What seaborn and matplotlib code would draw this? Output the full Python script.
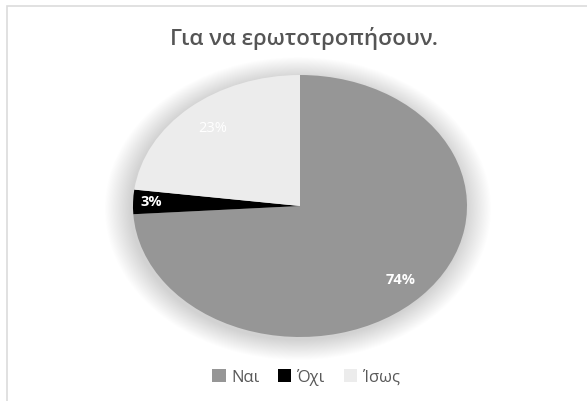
import numpy as np
import matplotlib
matplotlib.use("Agg")
import matplotlib.pyplot as plt
from matplotlib.patches import Ellipse, Rectangle
import seaborn as sns

# Survey answers
categories = ["Ναι", "Όχι", "Ίσως"]
shares = [74, 3, 23]
title = "Για να ερωτοτροπήσουν."

sns.set_theme(style="white")
plt.rcParams["font.family"] = ["Open Sans", "DejaVu Sans"]

colors = ["#969696", "#000000", "#ececec"]

W, H = 587, 401
fig = plt.figure(figsize=(W / 100, H / 100), dpi=100)
fig.patch.set_facecolor("white")

# thin chart-area border (top and left edges visible)
fig.patches.append(Rectangle((7 / W, -0.1), 1.2, (H - 6) / H + 0.1,
                             transform=fig.transFigure, fill=False,
                             edgecolor="#dcdcdc", lw=1.2))

# pie box in pixels: left, top, right, bottom
px0, py0, px1, py1 = 133, 75, 467, 337
ax = fig.add_axes([px0 / W, 1 - py1 / H, (px1 - px0) / W, (py1 - py0) / H])

# soft shadow behind the pie
n = 45
for i in range(n):
    s = 1.0 + 0.0035 * (n - i)
    ax.add_patch(Ellipse((-0.012, -0.02), 2 * s, 2 * s, facecolor="#000000",
                         alpha=0.0055, lw=0, zorder=0, clip_on=False))

wedges, _ = ax.pie(shares, colors=colors, startangle=90, counterclock=False,
                   radius=1.0, wedgeprops=dict(linewidth=0, zorder=2))
ax.set_aspect("auto")
ax.set_xlim(-1, 1)
ax.set_ylim(-1, 1)
ax.axis("off")

# percentage labels placed along each wedge's bisector
label_r = [0.83, 0.89, 0.79]
for w, v, r in zip(wedges, shares, label_r):
    mid = np.deg2rad((w.theta1 + w.theta2) / 2)
    ax.text(r * np.cos(mid), r * np.sin(mid), f"{v}%", color="white",
            ha="center", va="center", fontsize=10.5,
            fontweight="bold" if v != 23 else "normal", zorder=5)

fig.text(304 / W, 1 - 38 / H, title, ha="center", va="center",
         fontsize=16, fontweight="semibold", color="#555555")

leg = fig.legend(wedges, categories, loc="center", ncol=3,
                 bbox_to_anchor=(306 / W, 1 - 377 / H), frameon=False,
                 fontsize=12, handlelength=0.8, handleheight=0.8,
                 handletextpad=0.35, columnspacing=1.1)
for t in leg.get_texts():
    t.set_color("#595959")

fig.savefig("out.png", dpi=100, facecolor="white")
